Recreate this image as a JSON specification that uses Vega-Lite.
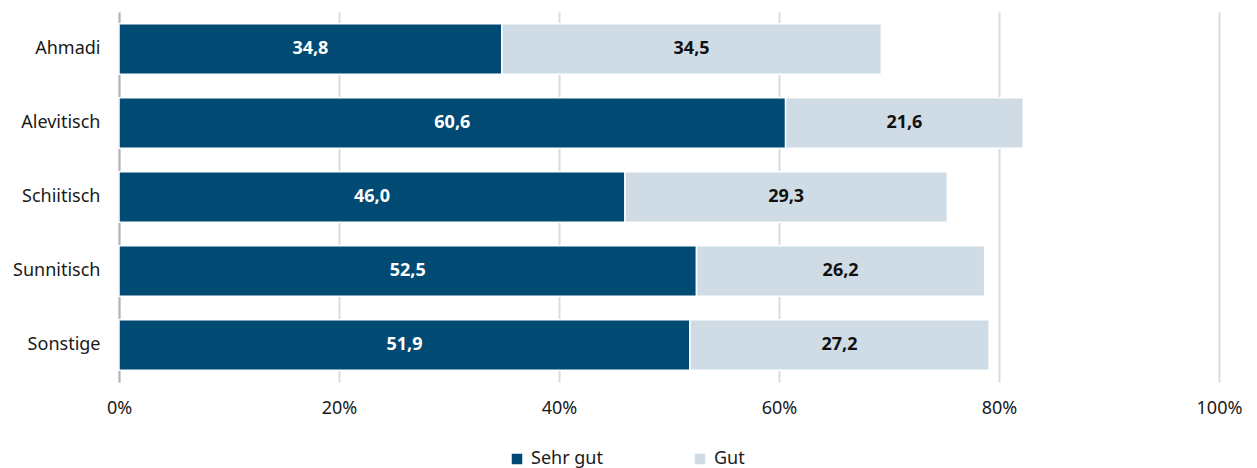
{
  "$schema": "https://vega.github.io/schema/vega-lite/v6.json",
  "width": 1100,
  "height": 370,
  "autosize": {"type": "none"},
  "padding": {"left": 119, "top": 12, "right": 38, "bottom": 86},
  "config": {
    "font": "Noto Sans",
    "view": {"stroke": null},
    "locale": {"number": {"decimal": ",", "thousands": ".", "grouping": [3], "currency": ["", " €"]}}
  },
  "data": {
    "values": [
      {"cat": "Ahmadi", "series": "Sehr gut", "value": 34.8},
      {"cat": "Ahmadi", "series": "Gut", "value": 34.5},
      {"cat": "Alevitisch", "series": "Sehr gut", "value": 60.6},
      {"cat": "Alevitisch", "series": "Gut", "value": 21.6},
      {"cat": "Schiitisch", "series": "Sehr gut", "value": 46.0},
      {"cat": "Schiitisch", "series": "Gut", "value": 29.3},
      {"cat": "Sunnitisch", "series": "Sehr gut", "value": 52.5},
      {"cat": "Sunnitisch", "series": "Gut", "value": 26.2},
      {"cat": "Sonstige", "series": "Sehr gut", "value": 51.9},
      {"cat": "Sonstige", "series": "Gut", "value": 27.2}
    ]
  },
  "transform": [
    {"stack": "value", "groupby": ["cat"], "sort": [{"field": "series", "order": "descending"}], "as": ["x0", "x1"]},
    {"calculate": "(datum.x0 + datum.x1) / 2", "as": "mid"}
  ],
  "encoding": {
    "y": {
      "field": "cat", "type": "nominal", "title": null,
      "sort": ["Ahmadi", "Alevitisch", "Schiitisch", "Sunnitisch", "Sonstige"],
      "scale": {"paddingInner": 0.32, "paddingOuter": 0.16},
      "axis": {"ticks": false, "labelFontSize": 18, "labelColor": "#1a1a1a", "labelPadding": 19, "domainColor": "#b5b5b5", "domainWidth": 2, "grid": false}
    }
  },
  "layer": [
    {
      "mark": {"type": "bar", "stroke": "white", "strokeWidth": 1.5},
      "encoding": {
        "x": {
          "field": "x0", "type": "quantitative", "title": null,
          "scale": {"domain": [0, 100], "nice": false},
          "axis": {"values": [0, 20, 40, 60, 80, 100], "labelExpr": "datum.value + '%'", "labelFlush": false, "ticks": false, "domain": false, "labelFontSize": 18, "labelColor": "#1a1a1a", "labelPadding": 17, "gridColor": "#dcdcdc", "gridWidth": 2}
        },
        "x2": {"field": "x1"},
        "color": {
          "field": "series", "type": "nominal", "title": null,
          "sort": ["Sehr gut", "Gut"],
          "scale": {"domain": ["Sehr gut", "Gut"], "range": ["#004a73", "#cfdce5"]},
          "legend": {"orient": "none", "direction": "horizontal", "legendX": 389, "legendY": 438, "symbolType": "square", "symbolSize": 110, "symbolStrokeWidth": 0, "labelFontSize": 18, "labelColor": "#1a1a1a", "labelOffset": 5, "columnPadding": 88}
        }
      }
    },
    {
      "mark": {"type": "text", "fontSize": 18, "fontWeight": "bold"},
      "encoding": {
        "x": {"field": "mid", "type": "quantitative"},
        "text": {"field": "value", "type": "quantitative", "format": ".1f"},
        "color": {
          "field": "series", "type": "nominal", "legend": null,
          "scale": {"domain": ["Sehr gut", "Gut"], "range": ["#ffffff", "#111111"]}
        }
      }
    }
  ],
  "resolve": {"scale": {"color": "independent"}}
}
